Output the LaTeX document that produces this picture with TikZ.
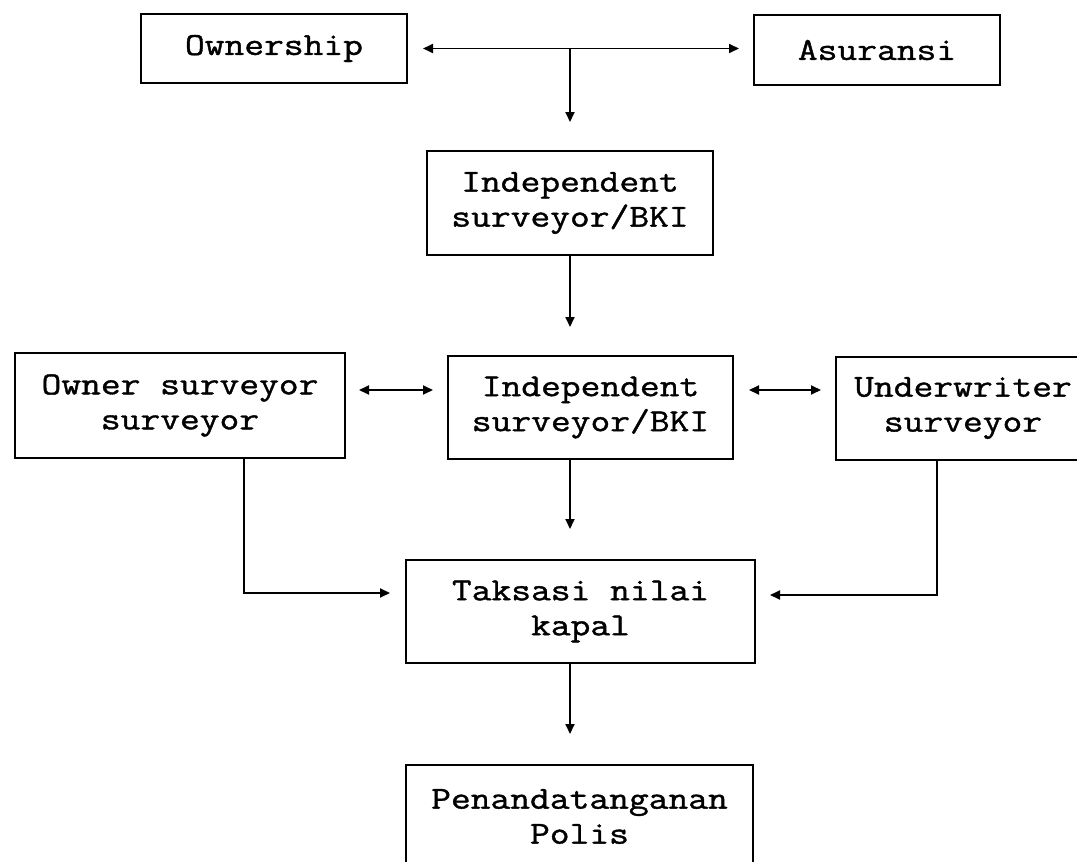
\documentclass[tikz,border=0pt]{standalone}
\usepackage{fontspec}
\setmonofont{Latin Modern Mono}[FakeStretch=1.2,FakeBold=1.2]
\usetikzlibrary{arrows.meta}
\usetikzlibrary{positioning}

\begin{document}
\begin{tikzpicture}[x=1pt,y=-1pt,
    box/.style={draw, line width=2pt, align=center, inner sep=0pt,
        font=\ttfamily\fontsize{32}{35}\selectfont},
    link/.style={line width=1.8pt, -{Triangle[length=10pt,width=9pt]}},
    both/.style={line width=1.8pt,
        {Triangle[length=10pt,width=9pt]}-{Triangle[length=10pt,width=9pt]}}]
    \useasboundingbox (0,0) rectangle (1077,862);
    % boxes
    \node[box, minimum width=266pt, minimum height=69pt] (own) at (274,48.5) {Ownership};
    \node[box, minimum width=246pt, minimum height=70pt] (asur) at (877,50) {Asuransi};
    \node[box, minimum width=286pt, minimum height=104pt] (bki1) at (570,203) {Independent\\surveyor/BKI};
    \node[box, minimum width=330pt, minimum height=105pt] (osurv) at (180,405.5) {Owner surveyor\\surveyor};
    \node[box, minimum width=285pt, minimum height=103pt] (bki2) at (590.5,407.5) {Independent\\surveyor/BKI};
    \node[box, minimum width=254pt, minimum height=103pt] (under) at (963,408) {Underwriter\\surveyor};
    \node[box, minimum width=349pt, minimum height=103pt] (taks) at (580.5,611.5) {Taksasi nilai\\kapal};
    \node[box, minimum width=347pt, minimum height=103pt] (polis) at (579.5,816.5) {Penandatanganan\\Polis};
    \coordinate (split) at (bki1.north |- own.east);
    % connectors
    \draw[both, shorten <=15pt, shorten >=14pt] (own.east) -- (own.east -| asur.west);
    \draw[link, shorten >=28pt] (split) -- (bki1);
    \draw[link, shorten >=28pt] (bki1.south) -- (bki1.south |- bki2.north);
    \draw[both, shorten <=13pt, shorten >=14pt] ([yshift=15.5pt]osurv.east) -- ([yshift=15.5pt]osurv.east -| bki2.west);
    \draw[both, shorten <=15pt, shorten >=14pt] ([yshift=15.5pt]osurv.east -| bki2.east) -- ([yshift=15.5pt]osurv.east -| under.west);
    \draw[link, shorten >=30pt] (bki1.south |- bki2.south) -- (bki1.south |- taks.north);
    \draw[link, shorten >=15pt] ([xshift=64pt]osurv.south) |- ([yshift=18.5pt]taks.west);
    \draw[link, shorten >=14pt] ([xshift=-26pt]under.south) |- ([yshift=16.5pt]taks.east);
    \draw[link, shorten >=30pt] (bki1.south |- taks.south) -- (bki1.south |- polis.north);
\end{tikzpicture}
\end{document}
